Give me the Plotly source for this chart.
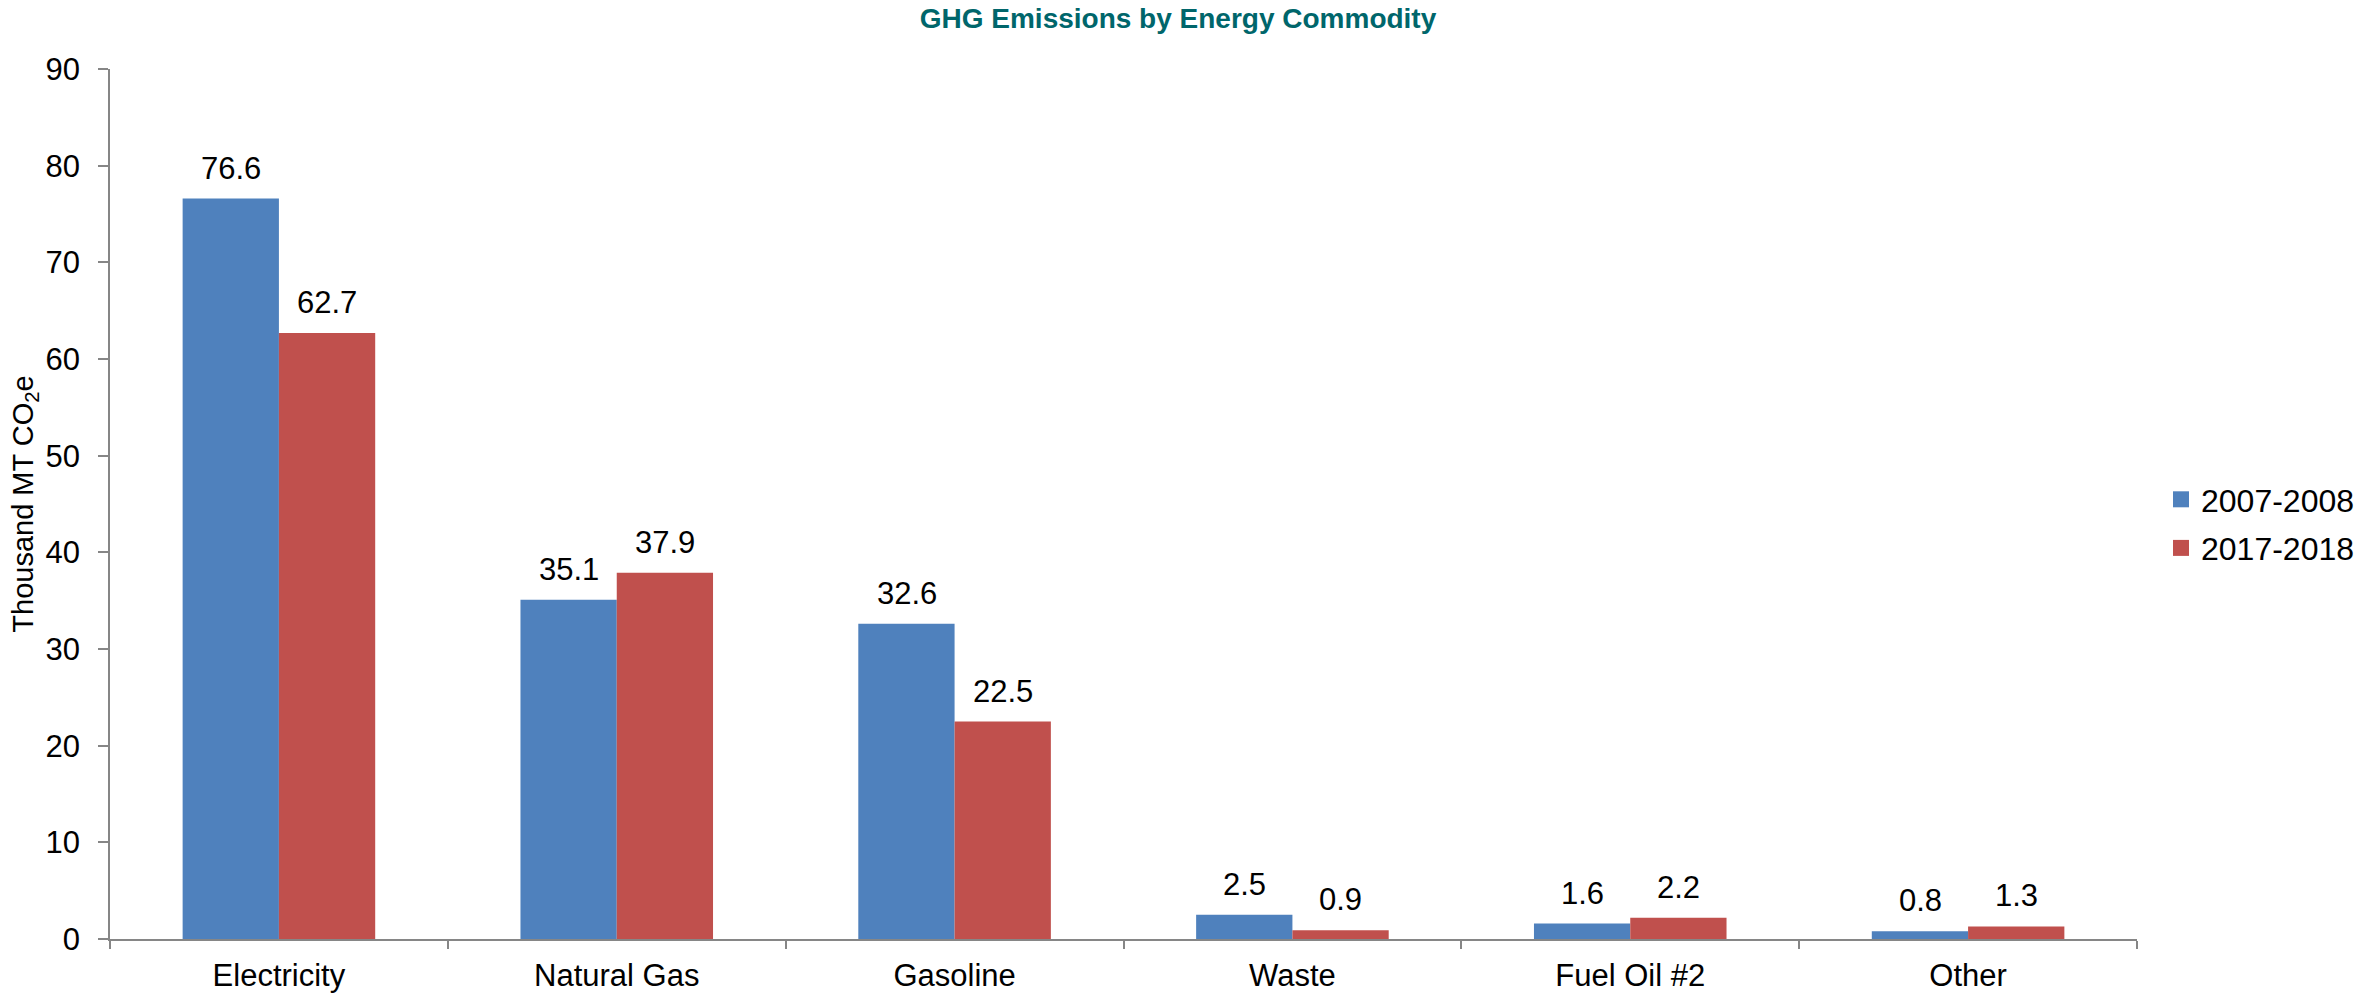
import plotly.graph_objects as go

categories = ["Electricity", "Natural Gas", "Gasoline", "Waste", "Fuel Oil #2", "Other"]
series_names = ["2007-2008", "2017-2018"]
values_2007 = [76.6, 35.1, 32.6, 2.5, 1.6, 0.8]
values_2017 = [62.7, 37.9, 22.5, 0.9, 2.2, 1.3]
y_ticks = [0, 10, 20, 30, 40, 50, 60, 70, 80, 90]

colors = ["#4F81BD", "#C0504D"]
FONT = "Liberation Sans, Arial, sans-serif"
FS = 31

fig = go.Figure()
for name, vals, col in zip(series_names, [values_2007, values_2017], colors):
    fig.add_trace(go.Bar(x=categories, y=vals, name=name, marker=dict(color=col, line=dict(width=0)),
                         showlegend=False))
    # legend proxy with larger square symbol
    fig.add_trace(go.Scatter(x=[None], y=[None], mode="markers", name=name, legendgroup=name,
                             marker=dict(symbol="square", size=17, color=col)))

annotations = []
for vals, shift in [(values_2007, -48), (values_2017, 48)]:
    for c, v in zip(categories, vals):
        annotations.append(dict(x=c, y=v, xref="x", yref="y", text=f"{v:.1f}", showarrow=False,
                                xshift=shift, yshift=11, yanchor="bottom",
                                font=dict(family=FONT, size=FS, color="#000000")))

W, H = 2356, 994
fig.update_layout(
    width=W, height=H,
    margin=dict(l=110, r=219, t=69, b=55),
    paper_bgcolor="white", plot_bgcolor="white",
    barmode="group", bargap=0.43, bargroupgap=0,
    title=dict(text="<b>GHG Emissions by Energy Commodity</b>", x=1178 / W, xanchor="center",
               y=1 - 18 / H, yanchor="middle",
               font=dict(family=FONT, size=28, color="#00666B")),
    font=dict(family=FONT, size=FS, color="#000000"),
    annotations=annotations,
    legend=dict(xref="container", yref="container", x=2161 / W, y=1 - 524 / H,
                xanchor="left", yanchor="middle", font=dict(size=32),
                itemwidth=30, tracegroupgap=4, bgcolor="rgba(0,0,0,0)"),
    xaxis=dict(showline=True, linecolor="#868686", linewidth=1.5, ticks="outside",
               tickson="boundaries", ticklen=8, tickcolor="#868686", tickwidth=1.5,
               showgrid=False, tickfont=dict(size=FS), automargin=False, ticklabelstandoff=8),
    yaxis=dict(range=[0, 90], tickvals=y_ticks, showline=True, linecolor="#868686", linewidth=1.5,
               ticks="outside", ticklen=10, tickcolor="#868686", tickwidth=1.5, showgrid=False,
               zeroline=False, tickfont=dict(size=FS), automargin=False, ticklabelstandoff=12,
               title=dict(text="Thousand MT CO<sub>2</sub>e", font=dict(size=29), standoff=3)),
)

fig.write_html("out.html", config={"displayModeBar": False},
               post_script="document.body.style.margin='0';")
